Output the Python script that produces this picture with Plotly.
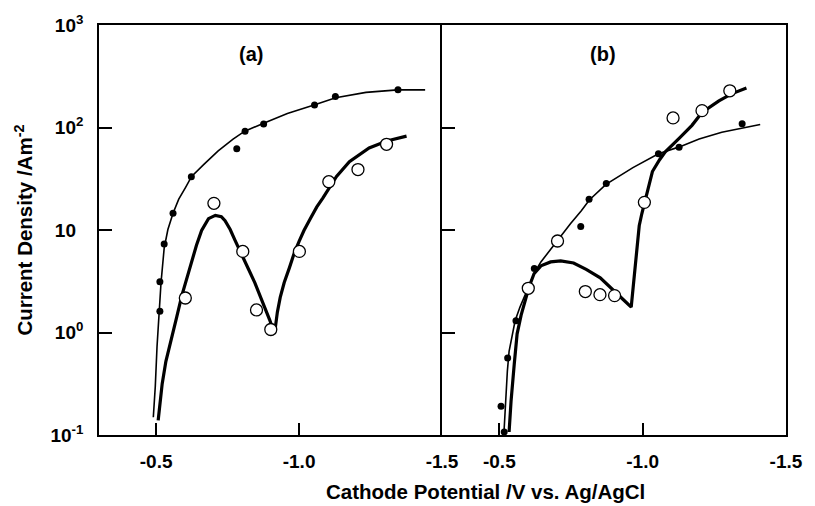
import plotly.graph_objects as go

# ---------------- data ----------------
# Panel (a)
a_fill_x = [-0.513, -0.513, -0.528, -0.559, -0.623, -0.782, -0.811, -0.876, -1.054, -1.127, -1.346]
a_fill_y = [1.61, 3.12, 7.31, 14.6, 33.1, 61.9, 92.0, 108, 166, 201, 234]
a_open_x = [-0.602, -0.702, -0.803, -0.851, -0.901, -1.001, -1.104, -1.206, -1.306]
a_open_y = [2.17, 18.2, 6.18, 1.66, 1.07, 6.18, 29.6, 38.9, 68.6]

a_thin_x = [-0.490, -0.497, -0.503, -0.510, -0.517, -0.528, -0.541, -0.559, -0.579, -0.603,
            -0.624, -0.666, -0.717, -0.769, -0.810, -0.876, -0.959, -1.055, -1.128, -1.234,
            -1.345, -1.441]
a_thin_y = [0.149, 0.30, 0.73, 1.58, 3.07, 6.65, 10.1, 14.6, 20.0, 26.1,
            33.3, 43.4, 59.2, 77.1, 92.0, 110, 137, 167, 195, 220,
            233, 233]

a_thick_x = [-0.507, -0.521, -0.534, -0.552, -0.572, -0.590, -0.607, -0.624, -0.641, -0.659,
             -0.683, -0.707, -0.728, -0.741, -0.759, -0.776, -0.803, -0.824, -0.845, -0.862,
             -0.879, -0.897, -0.914, -0.924, -0.934, -0.948, -0.966, -0.983, -1.000, -1.017,
             -1.041, -1.062, -1.083, -1.103, -1.131, -1.176, -1.210, -1.245, -1.307, -1.376]
a_thick_y = [0.139, 0.315, 0.524, 0.815, 1.42, 2.30, 3.42, 4.77, 7.10, 9.89,
             12.9, 13.9, 13.5, 12.3, 10.1, 7.93, 5.57, 4.09, 3.07, 2.35,
             1.85, 1.33, 0.97, 1.58, 2.20, 3.07, 4.27, 5.95, 7.76, 9.89,
             13.2, 16.8, 20.5, 25.0, 33.3, 46.4, 54.2, 63.2, 73.8, 82.4]

# Panel (b)
b_fill_x = [-0.506, -0.517, -0.529, -0.558, -0.622, -0.784, -0.813, -0.873, -1.055, -1.127, -1.347]
b_fill_y = [0.191, 0.107, 0.564, 1.30, 4.21, 10.8, 20.0, 28.4, 55.4, 64.2, 109]
b_open_x = [-0.601, -0.703, -0.800, -0.851, -0.902, -1.006, -1.106, -1.207, -1.304]
b_open_y = [2.70, 7.81, 2.51, 2.34, 2.29, 18.6, 124, 146, 228]

b_thin_x = [-0.516, -0.521, -0.528, -0.534, -0.545, -0.555, -0.572, -0.590, -0.607, -0.624,
            -0.645, -0.679, -0.707, -0.748, -0.786, -0.814, -0.872, -0.966, -1.055, -1.128,
            -1.197, -1.276, -1.410]
b_thin_y = [0.104, 0.194, 0.421, 0.653, 0.951, 1.30, 1.77, 2.35, 3.00, 3.91,
            4.88, 6.50, 8.11, 11.5, 15.4, 19.6, 27.9, 40.6, 55.4, 64.7,
            77.1, 90.0, 107]

b_thick_x = [-0.534, -0.541, -0.552, -0.562, -0.576, -0.593, -0.603, -0.621, -0.645, -0.679,
             -0.714, -0.759, -0.803, -0.852, -0.897, -0.931, -0.960, -0.971, -0.978, -0.988,
             -0.997, -1.007, -1.021, -1.034, -1.059, -1.079, -1.128, -1.172, -1.207, -1.266,
             -1.310, -1.362]
b_thick_y = [0.107, 0.217, 0.491, 0.97, 1.48, 2.11, 2.75, 3.74, 4.47, 4.88,
             4.99, 4.77, 4.13, 3.42, 2.63, 2.11, 1.77, 3.83, 6.36, 11.0,
             14.4, 18.8, 26.7, 37.2, 48.5, 57.9, 78.9, 105, 140, 182,
             213, 243]

x_tickvals = [-0.5, -1.0, -1.5]
x_ticktext = ["-0.5", "-1.0", "-1.5"]
y_tickvals = [0.1, 1, 10, 100, 1000]
y_ticktext = ["10<sup>-1</sup>", "10<sup>0</sup>",
              "10<sup><span style='color:rgba(0,0,0,0)'>0</span></sup>",
              "10<sup>2</sup>", "10<sup>3</sup>"]

FONT = "Liberation Sans"

fig = go.Figure()

def add_panel(fig, xa, ya, thin_x, thin_y, thick_x, thick_y, fx, fy, ox, oy):
    fig.add_trace(go.Scatter(x=thin_x, y=thin_y, mode="lines", xaxis=xa, yaxis=ya,
                             line=dict(color="black", width=1.6), showlegend=False, hoverinfo="skip"))
    fig.add_trace(go.Scatter(x=thick_x, y=thick_y, mode="lines", xaxis=xa, yaxis=ya,
                             line=dict(color="black", width=3.2), showlegend=False, hoverinfo="skip"))
    fig.add_trace(go.Scatter(x=fx, y=fy, mode="markers", xaxis=xa, yaxis=ya,
                             marker=dict(color="black", size=7, line=dict(width=0)), showlegend=False))
    fig.add_trace(go.Scatter(x=ox, y=oy, mode="markers", xaxis=xa, yaxis=ya,
                             marker=dict(color="white", size=12, line=dict(color="black", width=1.3)),
                             showlegend=False))

add_panel(fig, "x", "y", a_thin_x, a_thin_y, a_thick_x, a_thick_y, a_fill_x, a_fill_y, a_open_x, a_open_y)
add_panel(fig, "x2", "y2", b_thin_x, b_thin_y, b_thick_x, b_thick_y, b_fill_x, b_fill_y, b_open_x, b_open_y)

split = 348 / 697

xcommon = dict(range=[-0.3, -1.5], tickvals=x_tickvals, ticktext=x_ticktext,
               ticks="inside", ticklen=12, tickwidth=1.5, tickcolor="black",
               showline=True, linecolor="black", linewidth=1.6, mirror=True,
               showgrid=False, zeroline=False, ticklabelstandoff=8,
               tickfont=dict(family=FONT, size=19, color="black", weight="bold"))
ycommon = dict(type="log", range=[-1, 3], tickvals=y_tickvals, ticktext=y_ticktext,
               ticks="inside", ticklen=13, tickwidth=1.5, tickcolor="black",
               showline=True, linecolor="black", linewidth=1.6,
               showgrid=False, zeroline=False,
               tickfont=dict(family=FONT, size=19, color="black", weight="bold"))

fig.update_layout(
    width=815, height=506,
    margin=dict(l=99, r=19, t=18, b=71),
    paper_bgcolor="white", plot_bgcolor="white",
    xaxis=dict(domain=[0, split], anchor="y", **xcommon),
    xaxis2=dict(domain=[split, 1], anchor="y2", **xcommon),
    yaxis=dict(anchor="x", showticklabels=True, ticklabelstandoff=10, mirror=False, **ycommon),
    yaxis2=dict(anchor="x2", showticklabels=False, mirror=True, **ycommon),
    annotations=[
        dict(text="(a)", xref="paper", yref="paper", x=(253.5 - 99) / 697, y=(435 - 48) / 417,
             xanchor="center", yanchor="middle", showarrow=False,
             font=dict(family=FONT, size=20, color="black", weight="bold")),
        dict(text="(b)", xref="paper", yref="paper", x=(610 - 99) / 697, y=(435 - 48) / 417,
             xanchor="center", yanchor="middle", showarrow=False,
             font=dict(family=FONT, size=20, color="black", weight="bold")),
        dict(text="Cathode Potential /V vs. Ag/AgCl", xref="paper", yref="paper",
             x=(491 - 99) / 697, y=(435 - 492) / 417, xanchor="center", yanchor="middle",
             showarrow=False, font=dict(family=FONT, size=20.5, color="black", weight="bold")),
        dict(text="Current Density /Am<sup>-2</sup>", xref="paper", yref="paper",
             x=(23 - 99) / 697, y=(435 - 227) / 417, xanchor="center", yanchor="middle",
             textangle=-90, showarrow=False,
             font=dict(family=FONT, size=20.5, color="black", weight="bold")),
    ],
)

fig.write_html("out.html")
